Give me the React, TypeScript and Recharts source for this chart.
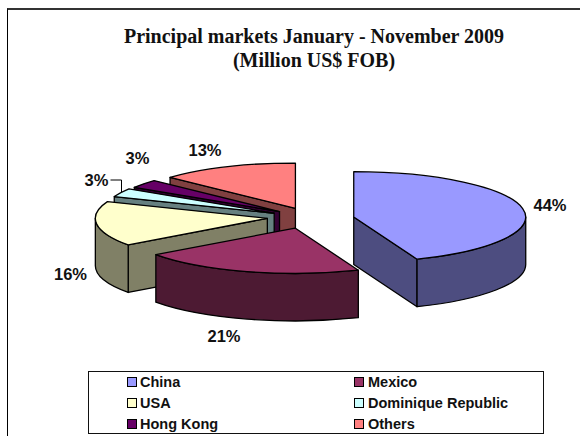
import { PieChart, Pie, Legend } from 'recharts';

const markets = ['China', 'Mexico', 'USA', 'Dominique Republic', 'Hong Kong', 'Others'];
const shares = [44, 21, 16, 3, 3, 13];
const topColors = ['#9999FF', '#993366', '#FFFFCC', '#CCFFFF', '#660066', '#FF8080'];
const sideColors = ['#4D4D80', '#4D1A33', '#808066', '#668080', '#330033', '#804040'];

const TITLE_LINES = ['Principal markets January - November 2009', '(Million US$ FOB)'];

// 3d look of the excel pie
const DEPTH = 47.5;
const TILT = 0.262;
const EXPLODE_X = 43;
const EXPLODE_Y = 10.5;

// small per slice corrections, the excel explosion is not quite even
const nudges: Record<string, { dx: number; dy: number }> = {
  China: { dx: 1, dy: 1 },
  Mexico: { dx: -3.5, dy: 0 },
  USA: { dx: -0.5, dy: -1 },
  'Dominique Republic': { dx: 2, dy: 0 },
  'Hong Kong': { dx: 3, dy: 0 },
  Others: { dx: 2, dy: 0 },
};

// where each percentage label sits, relative to the pie centre
const labelSpots: Record<string, { dx: number; dy: number }> = {
  China: { dx: 239.5, dy: -13 },
  Mexico: { dx: -86.5, dy: 118 },
  USA: { dx: -240, dy: 56 },
  'Dominique Republic': { dx: -214, dy: -38 },
  'Hong Kong': { dx: -173, dy: -60 },
  Others: { dx: -105.5, dy: -68 },
};

// painted back to front, so the table runs the other way round the pie
const tableData = markets
  .map((name, i) => ({ name, value: shares[i], fill: topColors[i], side: sideColors[i] }))
  .reverse();

const rad = (deg: number) => (deg * Math.PI) / 180;

function Slice3D(props: any) {
  const { cx, cy, outerRadius, startAngle, endAngle, fill, payload, name } = props;
  const side = payload?.side ?? props.side;
  const nudge = nudges[name ?? payload?.name] ?? { dx: 0, dy: 0 };
  const rx = outerRadius;
  const ry = 173 * TILT;

  // recharts angles -> clockwise from 12 o'clock
  const from = 90 - Math.max(startAngle, endAngle) + 360;
  const to = 90 - Math.min(startAngle, endAngle) + 360;
  const s = from % 360;
  const e = s + (to - from);
  const mid = rad((s + e) / 2);

  const ax = cx + EXPLODE_X * Math.sin(mid) + nudge.dx;
  const ay = cy - EXPLODE_Y * Math.cos(mid) + nudge.dy;
  const pt = (deg: number, drop = 0): [number, number] => [
    ax + rx * Math.sin(rad(deg)),
    ay - ry * Math.cos(rad(deg)) + drop,
  ];

  const edgeFace = (deg: number) => {
    const [x, y] = pt(deg);
    return `M${ax},${ay} L${x},${y} L${x},${y + DEPTH} L${ax},${ay + DEPTH} Z`;
  };

  const faces: string[] = [];
  if (s > 180) faces.push(edgeFace(s));
  if (e < 180) faces.push(edgeFace(e));

  const wallFrom = Math.max(s, 90);
  const wallTo = Math.min(e, 270);
  if (wallFrom < wallTo) {
    const [x1, y1] = pt(wallFrom);
    const [x2, y2] = pt(wallTo);
    const big = wallTo - wallFrom > 180 ? 1 : 0;
    faces.push(
      `M${x1},${y1} A${rx},${ry} 0 ${big} 1 ${x2},${y2} L${x2},${y2 + DEPTH} A${rx},${ry} 0 ${big} 0 ${x1},${y1 + DEPTH} Z`
    );
  }

  const [sx, sy] = pt(s);
  const [ex, ey] = pt(e);
  const top = `M${ax},${ay} L${sx},${sy} A${rx},${ry} 0 ${e - s > 180 ? 1 : 0} 1 ${ex},${ey} Z`;

  return (
    <g>
      {faces.map((d, i) => (
        <path key={i} d={d} fill={side} stroke="#000" strokeWidth={1.3} strokeLinejoin="round" />
      ))}
      <path d={top} fill={fill} stroke="#000" strokeWidth={1.3} strokeLinejoin="round" />
    </g>
  );
}

function PercentLabel(props: any) {
  const { cx, cy, name, value } = props;
  const spot = labelSpots[name];
  const x = cx + spot.dx;
  const y = cy + spot.dy;
  return (
    <g>
      {name === 'Dominique Republic' && (
        <polyline
          points={`${x + 14},${y} ${x + 25},${y} ${x + 25},${y + 12}`}
          fill="none"
          stroke="#000"
          strokeWidth={1}
        />
      )}
      <text
        x={x}
        y={y}
        textAnchor="middle"
        dominantBaseline="central"
        fontFamily="Liberation Sans"
        fontWeight="bold"
        fontSize={16.5}
        fill="#111"
      >
        {value}%
      </text>
    </g>
  );
}

function MarketLegend() {
  return (
    <div
      style={{
        width: 456,
        height: 63,
        boxSizing: 'border-box',
        border: '1.5px solid #111',
        position: 'relative',
        fontFamily: 'Liberation Sans',
        fontWeight: 'bold',
        fontSize: 14.5,
        color: '#111',
        background: '#fff',
      }}
    >
      {markets.map((name, i) => (
        <div
          key={name}
          style={{
            position: 'absolute',
            left: i % 2 === 0 ? 38 : 265,
            top: Math.floor(i / 2) * 21,
            height: 20,
            lineHeight: '20px',
            whiteSpace: 'nowrap',
          }}
        >
          <span
            style={{
              display: 'inline-block',
              boxSizing: 'border-box',
              width: 10,
              height: 10,
              marginRight: i % 2 === 0 ? 3 : 4,
              border: '1.5px solid #000',
              background: topColors[i],
            }}
          />
          {name}
        </div>
      ))}
    </div>
  );
}

export default function App() {
  return (
    <div style={{ position: 'absolute', left: 0, top: 0, width: 580, height: 436, overflow: 'hidden', background: '#fff' }}>
      <div
        style={{
          position: 'absolute',
          left: 7,
          top: 8,
          width: 600,
          height: 460,
          borderLeft: '1px solid #000',
          borderTop: '2px solid #333',
        }}
      />
      <div
        style={{
          position: 'absolute',
          left: 0,
          top: 24,
          width: 628,
          textAlign: 'center',
          fontFamily: 'Liberation Serif',
          fontWeight: 'bold',
          fontSize: 20,
          lineHeight: '24px',
          color: '#111',
        }}
      >
        {TITLE_LINES.map((line) => (
          <div key={line}>{line}</div>
        ))}
      </div>
      <PieChart width={580} height={436} margin={{ top: 0, right: 0, bottom: 0, left: 0 }} style={{ position: 'absolute', left: 0, top: 0 }}>
        <Pie
          data={tableData}
          dataKey="value"
          nameKey="name"
          cx={310.5}
          cy={218}
          outerRadius={172}
          startAngle={90}
          endAngle={450}
          stroke="#000"
          shape={Slice3D}
          label={PercentLabel}
          labelLine={false}
          isAnimationActive={false}
        />
        <Legend content={MarketLegend} wrapperStyle={{ position: 'absolute', left: 88, top: 371, width: 456, height: 63, bottom: 'auto' }} />
      </PieChart>
    </div>
  );
}
